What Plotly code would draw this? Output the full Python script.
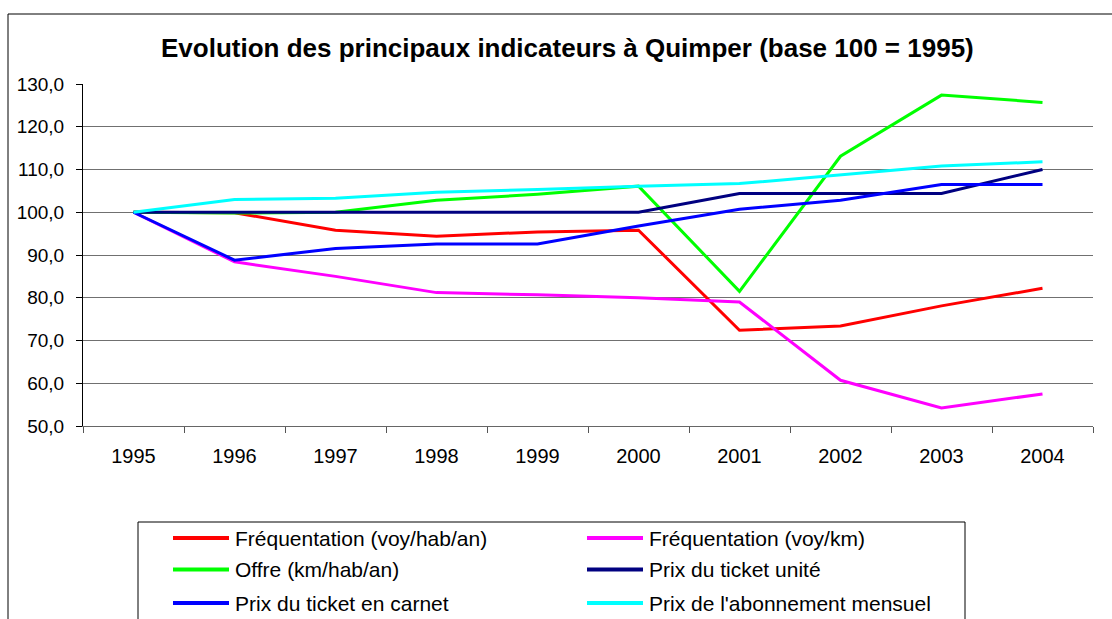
import plotly.graph_objects as go

years = ["1995", "1996", "1997", "1998", "1999", "2000", "2001", "2002", "2003", "2004"]

freq_hab = [100.0, 99.9, 95.8, 94.4, 95.4, 95.8, 72.4, 73.4, 78.1, 82.2]
freq_km = [100.0, 88.4, 85.0, 81.2, 80.7, 80.0, 79.0, 60.7, 54.2, 57.5]
offre = [100.0, 99.8, 100.0, 102.8, 104.2, 106.1, 81.5, 113.1, 127.4, 125.7]
ticket_unite = [100.0, 100.0, 100.0, 100.0, 100.0, 100.0, 104.4, 104.4, 104.4, 110.0]
ticket_carnet = [100.0, 88.8, 91.5, 92.6, 92.6, 96.8, 100.7, 102.8, 106.5, 106.5]
abonnement = [100.0, 103.0, 103.3, 104.7, 105.3, 106.1, 106.7, 108.7, 110.8, 111.8]

series_names = [
    "Fréquentation (voy/hab/an)",
    "Fréquentation (voy/km)",
    "Offre (km/hab/an)",
    "Prix du ticket unité",
    "Prix du ticket en carnet",
    "Prix de l'abonnement mensuel",
]
series_values = [freq_hab, freq_km, offre, ticket_unite, ticket_carnet, abonnement]
series_colors = ["#FF0000", "#FF00FF", "#00FF00", "#000080", "#0000FF", "#00FFFF"]

title_text = "Evolution des principaux indicateurs à Quimper (base 100 = 1995)"

W, H = 1112, 619
PL, PR, PT, PB = 83, 1093, 84, 426  # plot area in pixels


def px(x):
    return (x - PL) / (PR - PL)


def py(y):
    return (PB - y) / (PB - PT)


FONT = "Liberation Sans, Arial, sans-serif"

fig = go.Figure()
for name, vals, col in zip(series_names, series_values, series_colors):
    fig.add_trace(go.Scatter(
        x=years, y=vals, name=name, mode="lines",
        line=dict(color=col, width=3), showlegend=False,
    ))

shapes = []
annotations = []

# outer chart border
shapes.append(dict(type="rect", xref="paper", yref="paper",
                   x0=px(8), x1=px(1140), y0=py(14), y1=py(700),
                   line=dict(color="black", width=1), layer="below"))
# legend box
shapes.append(dict(type="rect", xref="paper", yref="paper",
                   x0=px(138), x1=px(965), y0=py(522), y1=py(700),
                   line=dict(color="black", width=1), fillcolor="white", layer="below"))

# manual legend (two columns, three rows)
col_x = [173, 587]
row_y = [538, 569.5, 603]
for i, (name, col) in enumerate(zip(series_names, series_colors)):
    cx = col_x[i % 2]
    ry = row_y[i // 2]
    shapes.append(dict(type="line", xref="paper", yref="paper",
                       x0=px(cx), x1=px(cx + 56), y0=py(ry), y1=py(ry),
                       line=dict(color=col, width=4)))
    annotations.append(dict(text=name, xref="paper", yref="paper",
                            x=px(cx + 60), y=py(ry), xanchor="left", yanchor="middle",
                            showarrow=False, font=dict(family=FONT, size=21, color="black")))

annotations.append(dict(text="<b>" + title_text + "</b>", xref="paper", yref="paper",
                        x=px(567), y=py(48), xanchor="center", yanchor="middle",
                        showarrow=False, font=dict(family=FONT, size=26, color="black")))

fig.update_layout(
    width=W, height=H,
    margin=dict(l=PL, r=W - PR, t=PT, b=H - PB, pad=0),
    paper_bgcolor="white", plot_bgcolor="white",
    separators=", ",
    font=dict(family=FONT, size=19, color="black"),
    shapes=shapes, annotations=annotations,
    showlegend=False,
)
fig.update_xaxes(
    type="category", range=[-0.5, len(years) - 0.5],
    tickson="boundaries", ticks="outside", ticklen=6,
    tickcolor="#555555", showgrid=False, showline=True, linecolor="#666666",
    linewidth=1, ticklabelstandoff=12, tickfont=dict(size=20),
)
fig.update_yaxes(
    range=[50, 130], dtick=10, tick0=50, tickformat=".1f",
    ticks="outside", ticklen=6, tickcolor="black",
    showgrid=True, gridcolor="#707070", gridwidth=1,
    showline=True, linecolor="black", linewidth=1,
    zeroline=False, ticklabelstandoff=8, tickfont=dict(size=19),
)

fig.write_html(
    "out.html",
    config={"displayModeBar": False},
    post_script="document.body.style.margin='0';document.body.style.overflow='hidden';",
)
